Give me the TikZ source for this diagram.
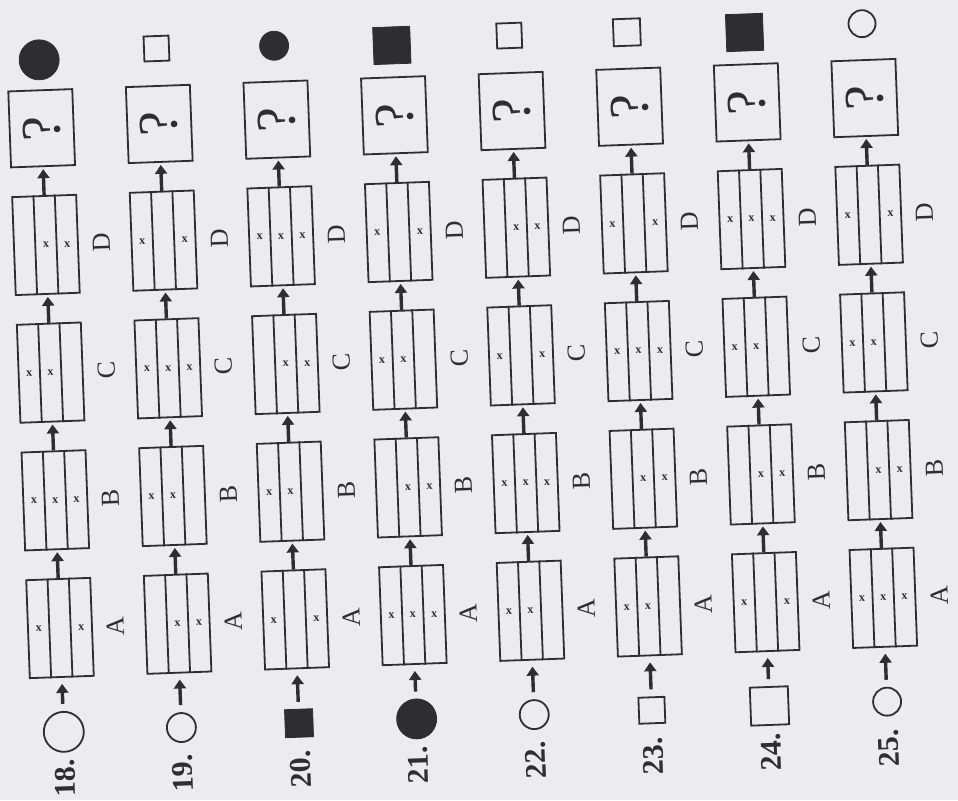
\documentclass[tikz,border=0pt]{standalone}
\usepackage{fontspec}
\setmainfont{Liberation Serif}
\usetikzlibrary{arrows.meta,positioning}
\definecolor{paper}{RGB}{236,236,240}
\definecolor{ink}{RGB}{45,45,50}

% dividers of a card and the x marks in its strips
\newcommand{\strips}[2]{%
  \draw[ink,line width=0.9pt] ([xshift=-5.33pt]#1.south) -- ([xshift=-5.33pt]#1.north);
  \draw[ink,line width=0.9pt] ([xshift=5.33pt]#1.south) -- ([xshift=5.33pt]#1.north);
  \foreach \k in #2 {\node[mk] at ([xshift={(\k-2)*10.67pt}]#1.center) {x};}
}

\begin{document}
\begin{tikzpicture}[x=0.5pt,y=0.5pt,
  card/.style={draw=ink,line width=0.9pt,minimum width=32pt,minimum height=49pt,inner sep=0pt},
  qbox/.style={draw=ink,line width=0.9pt,minimum width=32pt,minimum height=38pt,inner sep=0pt,text=ink,font=\fontsize{28}{28}\selectfont},
  ocirc/.style={circle,draw=ink,line width=0.9pt,inner sep=0pt},
  fcirc/.style={circle,draw=ink,fill=ink,inner sep=0pt},
  osq/.style={rectangle,draw=ink,line width=0.9pt,inner sep=0pt},
  fsq/.style={rectangle,draw=ink,fill=ink,inner sep=0pt},
  mk/.style={inner sep=0pt,text=ink,font=\fontsize{6}{6}\selectfont\bfseries},
  lbl/.style={rotate=90,text=ink,font=\fontsize{13}{13}\selectfont},
  numlbl/.style={rotate=90,text=ink,font=\fontsize{15}{15}\selectfont\bfseries},
  arr/.style={-{Triangle[width=6pt,length=4.5pt]},line width=1.7pt,draw=ink}
]
\path[use as bounding box,fill=paper] (0,0) rectangle (958,800);
\begin{scope}[rotate around={2.1:(60,172)},transform shape]
\foreach \num/\a/\b/\c/\d/\st/\sts/\an/\ans [count=\i from 0] in {
    18/{1,3}/{1,2,3}/{1,2}/{2,3}/ocirc/20pt/fcirc/20pt,
    19/{2,3}/{1,2}/{1,2,3}/{1,3}/ocirc/14.5pt/osq/12.5pt,
    20/{1,3}/{1,2}/{2,3}/{1,2,3}/fsq/14pt/fcirc/14.5pt,
    21/{1,2,3}/{2,3}/{1,2}/{1,3}/fcirc/20pt/fsq/18.5pt,
    22/{1,2}/{1,2,3}/{1,3}/{2,3}/ocirc/14.5pt/osq/12.5pt,
    23/{1,2}/{2,3}/{1,2,3}/{1,3}/osq/13pt/osq/13.5pt,
    24/{1,3}/{2,3}/{1,2}/{1,2,3}/osq/19pt/fsq/18.5pt,
    25/{1,2,3}/{2,3}/{1,2}/{1,3}/ocirc/14pt/ocirc/13.5pt}{
  \node[card] (a\num) at ({60+117.7*\i},172) {};
  \node[card,above=14pt of a\num] (b\num) {};
  \node[card,above=14pt of b\num] (c\num) {};
  \node[card,above=14pt of c\num] (d\num) {};
  \node[qbox,above=14pt of d\num] (q\num) {\rotatebox{90}{?}};
  \node[\an,minimum size=\ans,above=25pt of q\num.north,anchor=north] (r\num) {};
  \node[\st,minimum size=\sts,below=27pt of a\num,anchor=center] (s\num) {};
  \node[numlbl,below=50pt of a\num,anchor=center] (n\num) {\num.};
  \node[lbl,right=11.5pt of a\num.east,anchor=center] (la\num) {A};
  \node[lbl,right=11.5pt of b\num.east,anchor=center] (lb\num) {B};
  \node[lbl,right=11.5pt of c\num.east,anchor=center] (lc\num) {C};
  \node[lbl,right=11.5pt of d\num.east,anchor=center] (ld\num) {D};
  \strips{a\num}{\a}
  \strips{b\num}{\b}
  \strips{c\num}{\c}
  \strips{d\num}{\d}
  \draw[arr,shorten <=3.5pt,shorten >=3pt] (s\num) -- (a\num);
  \draw[arr,shorten >=1pt] (a\num) -- (b\num);
  \draw[arr,shorten >=1pt] (b\num) -- (c\num);
  \draw[arr,shorten >=1pt] (c\num) -- (d\num);
  \draw[arr,shorten >=1pt] (d\num) -- (q\num);
}
\end{scope}
\end{tikzpicture}
\end{document}
